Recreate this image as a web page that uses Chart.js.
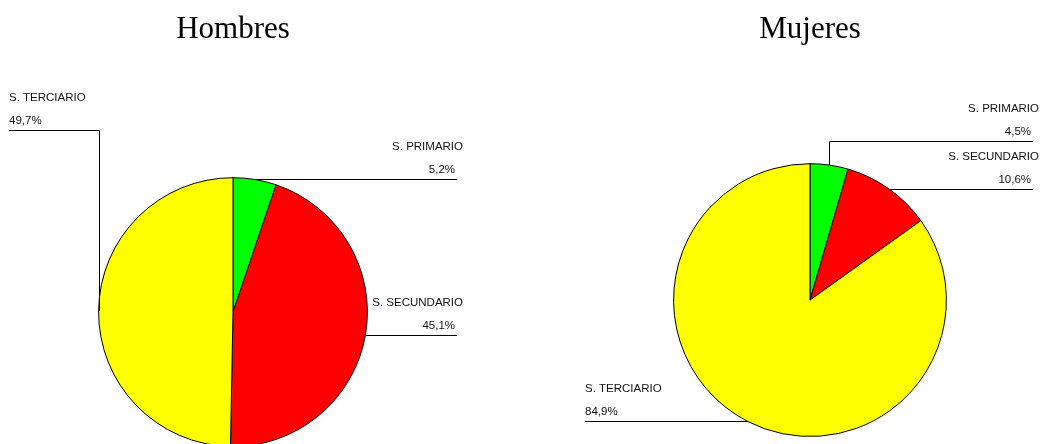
<!DOCTYPE html>
<html>
<head>
<meta charset="utf-8">
<script src="https://cdn.jsdelivr.net/npm/chart.js@4/dist/chart.umd.min.js"></script>
<style>
  body { margin: 0; background: #fff; }
  #wrap { position: relative; width: 1040px; height: 444px; overflow: hidden; }
  #hombres { position: absolute; left: 0; top: 0; }
  #mujeres { position: absolute; left: 580px; top: 0; }
</style>
</head>
<body>
<div id="wrap">
  <canvas id="hombres" width="466" height="460"></canvas>
  <canvas id="mujeres" width="460" height="460"></canvas>
</div>
<script>
// sectores economicos, en el mismo orden en los dos graficos
const sectores = ['S. PRIMARIO', 'S. SECUNDARIO', 'S. TERCIARIO'];
const hombres = [5.2, 45.1, 49.7];
const mujeres = [4.5, 10.6, 84.9];
const colores = ['#00ff00', '#ff0000', '#ffff00'];

// lineas guia desde el borde de cada sector hasta su etiqueta
const leaderLines = {
    id: 'leaderLines',
    afterDatasetsDraw(chart, args, opts) {
        const ctx = chart.ctx;
        const values = chart.data.datasets[0].data;
        const arcs = chart.getDatasetMeta(0).data;
        ctx.save();
        ctx.strokeStyle = '#000';
        ctx.lineWidth = 1;
        ctx.fillStyle = '#111';
        ctx.font = '11.5px "Liberation Sans", Arial, sans-serif';
        ctx.textBaseline = 'middle';
        arcs.forEach((arc, i) => {
            const g = opts.guides[i];
            const mid = (arc.startAngle + arc.endAngle) / 2;
            let px = arc.x + Math.cos(mid) * arc.outerRadius;
            const py = arc.y + Math.sin(mid) * arc.outerRadius;
            const y = Math.round(g.lineY != null ? g.lineY : py) + 0.5;
            ctx.beginPath();
            if (g.lineY != null) {
                px = Math.round(px) + 0.5;
                ctx.moveTo(px, py);
                ctx.lineTo(px, y);
            } else {
                ctx.moveTo(px, y);
            }
            ctx.lineTo(g.endX, y);
            ctx.stroke();

            const texto = values[i].toFixed(1).replace('.', ',') + '%';
            if (g.endX > px) {
                ctx.textAlign = 'right';
                ctx.fillText(chart.data.labels[i], g.endX + 6, y - 33);
                ctx.fillText(texto, g.endX - 2, y - 10);
            } else {
                ctx.textAlign = 'left';
                ctx.fillText(chart.data.labels[i], g.endX, y - 33);
                ctx.fillText(texto, g.endX, y - 10);
            }
        });
        ctx.restore();
    }
};

function pieChart(id, titulo, datos, padding, guides) {
    const ctx = document.getElementById(id).getContext('2d');
    return new Chart(ctx, {
        type: 'pie',
        data: {
            labels: sectores,
            datasets: [{
                data: datos,
                backgroundColor: colores,
                borderColor: '#000',
                borderWidth: 1
            }]
        },
        options: {
            responsive: false,
            animation: false,
            devicePixelRatio: 1,
            layout: { padding: padding },
            plugins: {
                legend: { display: false },
                tooltip: { enabled: false },
                title: {
                    display: true,
                    text: titulo,
                    color: '#000',
                    font: { family: '"Liberation Serif", "Times New Roman", serif', size: 31, weight: 'normal', lineHeight: 1.2 },
                    padding: { top: 11, bottom: padding.titleGap }
                },
                leaderLines: { guides: guides }
            }
        },
        plugins: [leaderLines]
    });
}

pieChart('hombres', 'Hombres', hombres,
    { left: 98, right: 98, top: 0, bottom: 13, titleGap: 129 },
    [
        { lineY: null, endX: 457 },
        { lineY: null, endX: 457 },
        { lineY: 130, endX: 9 }
    ]);

pieChart('mujeres', 'Mujeres', mujeres,
    { left: 93, right: 93, top: 0, bottom: 23, titleGap: 115 },
    [
        { lineY: 141, endX: 453 },
        { lineY: null, endX: 453 },
        { lineY: null, endX: 5 }
    ]);
</script>
</body>
</html>
